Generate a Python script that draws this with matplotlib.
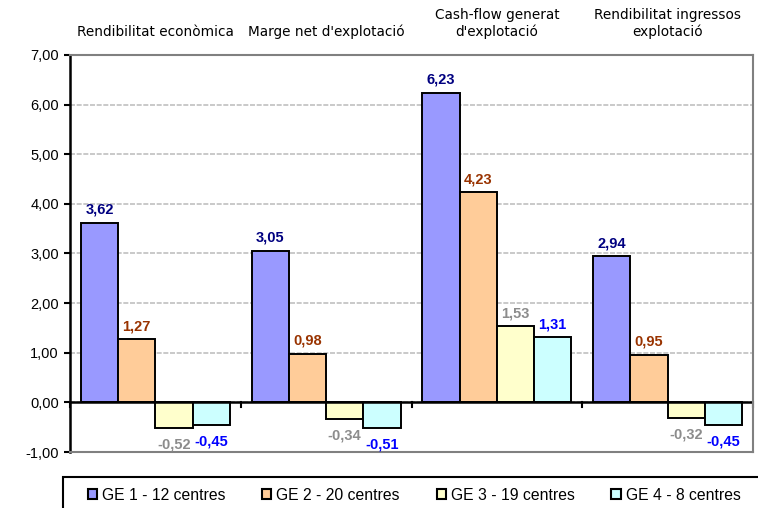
import matplotlib
matplotlib.use("Agg")
import matplotlib.pyplot as plt
import matplotlib.transforms as mtransforms
import numpy as np
from matplotlib.patches import Rectangle, Patch

categories = ["Rendibilitat econòmica", "Marge net d'explotació",
              "Cash-flow generat\nd'explotació", "Rendibilitat ingressos\nexplotació"]
series_names = ["GE 1 - 12 centres", "GE 2 - 20 centres", "GE 3 - 19 centres", "GE 4 - 8 centres"]
ge1 = [3.62, 3.05, 6.23, 2.94]
ge2 = [1.27, 0.98, 4.23, 0.95]
ge3 = [-0.52, -0.34, 1.53, -0.32]
ge4 = [-0.45, -0.51, 1.31, -0.45]
y_ticks = [-1, 0, 1, 2, 3, 4, 5, 6, 7]

series = [ge1, ge2, ge3, ge4]
bar_colors = ["#9999FF", "#FFCC99", "#FFFFCC", "#CCFFFF"]
label_colors = ["#000080", "#993300", "#8C8C8C", "#0000FF"]

plt.rcParams['font.family'] = ['Liberation Sans', 'DejaVu Sans']

fig = plt.figure(figsize=(7.58, 5.08), dpi=100)
ax = fig.add_axes([70/758, 1-452/508, (753-70)/758, (452-55)/508])

n = len(categories)
x = np.arange(n)
bw = 0.218
offsets = (np.arange(4) - 1.5) * bw
for i, (vals, c, lc) in enumerate(zip(series, bar_colors, label_colors)):
    ax.bar(x + offsets[i], vals, width=bw, color=c, edgecolor="black",
           linewidth=1.4, zorder=3, label=series_names[i])
    for xi, v in zip(x + offsets[i], vals):
        txt = f"{v:.2f}".replace(".", ",")
        if v >= 0:
            ax.annotate(txt, (xi, v), xytext=(0, 4.5),
                        textcoords="offset points", ha="center", va="bottom",
                        color=lc, fontsize=10.5, fontweight="bold", zorder=5)
        else:
            ax.annotate(txt, (xi, v), xytext=(0, -7),
                        textcoords="offset points", ha="center", va="top",
                        color=lc, fontsize=10.5, fontweight="bold", zorder=5)

ax.set_xlim(-0.5, n - 0.5)
ax.set_ylim(-1, 7)
ax.set_yticks(y_ticks)
ax.set_yticklabels([f"{t:.2f}".replace(".", ",") for t in y_ticks], fontsize=10.5)
ax.yaxis.grid(True, color="#C0C0C0", linestyle=(0, (3, 1)), linewidth=1.2, zorder=0)
ax.set_xticks([])
ax.tick_params(axis="y", length=4, width=1.5, color="black", pad=4)

for s in ["top", "right", "bottom"]:
    ax.spines[s].set_color("#808080")
    ax.spines[s].set_linewidth(1.5)
    ax.spines[s].set_zorder(4)
ax.spines["left"].set_color("black")
ax.spines["left"].set_linewidth(1.8)
ax.spines["left"].set_zorder(4)

# zero axis line with category boundary ticks
ax.axhline(0, color="black", linewidth=1.8, zorder=4)
for b in np.arange(n + 1) - 0.5:
    ax.plot([b, b], [0, -0.1], color="black", linewidth=1.5, zorder=4, clip_on=False)

# category labels at top
trans = mtransforms.blended_transform_factory(ax.transData, fig.transFigure)
for xi, cat in zip(x, categories):
    ax.text(xi, 1 - 39/508, cat, transform=trans,
            ha="center", va="bottom", fontsize=9.8, family="DejaVu Sans", linespacing=1.2)

# legend box
fig.patches.append(Rectangle((63/758, -0.1), 1.0, (508-477)/508 + 0.1, transform=fig.transFigure,
                             fill=False, edgecolor="black", linewidth=1.5, clip_on=False))
handles = [Patch(facecolor=c, edgecolor="black", linewidth=1.5) for c in bar_colors]
fig.legend(handles, series_names, loc="center", bbox_to_anchor=(414/758, 1 - 495/508),
           ncol=4, frameon=False, fontsize=11.3, handlelength=0.6, handleheight=0.6,
           handletextpad=0.3, columnspacing=2.35, borderpad=0.1)

fig.savefig("out.png", dpi=100)
